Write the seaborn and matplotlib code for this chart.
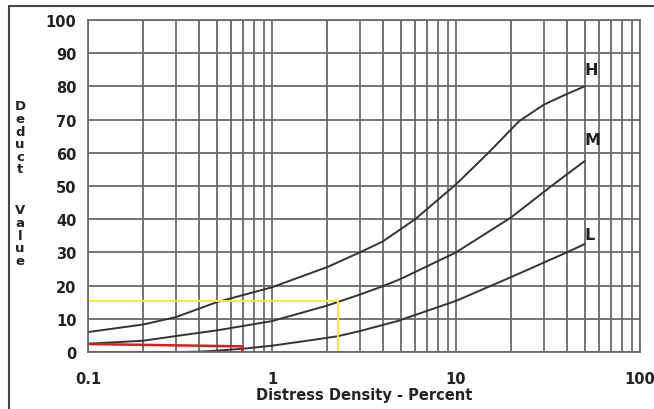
import numpy as np
import pandas as pd
import matplotlib
matplotlib.use('Agg')
import matplotlib.pyplot as plt
from matplotlib.lines import Line2D
import seaborn as sns

# Curve readings (distress density %, deduct value)
h_density = [0.1, 0.2, 0.3, 0.5, 1, 2, 3, 4, 6, 10, 15, 22, 30, 40, 50]
h_value = [6, 8.3, 10.5, 15, 19.5, 25.6, 30, 33.3, 40, 50.5, 60, 69.5, 74.5, 77.7, 80]

m_density = [0.1, 0.2, 0.3, 0.5, 1, 2, 3, 4, 5, 10, 20, 33, 50]
m_value = [2.5, 3.4, 4.8, 6.5, 9.3, 14, 17.3, 19.8, 22, 30, 40.6, 50, 57.5]

l_density = [0.1, 0.3, 0.4, 0.5, 0.7, 1, 1.8, 2.3, 3, 4.8, 10, 20, 40, 50]
l_value = [0, 0, 0.1, 0.4, 1.0, 1.9, 3.9, 4.8, 6.3, 9.3, 15.4, 22.6, 30, 32.5]

# Worked example lines
yellow_x = [0.1, 2.29, 2.29]
yellow_y = [15.3, 15.3, 0]
red_x = [0.1, 0.69, 0.69]
red_y = [2.4, 1.7, 0]

curve_labels = ['H', 'M', 'L']
label_pos = [(50, 85), (50, 64), (50, 35.5)]

x_ticks = [0.1, 1, 10, 100]
x_ticklabels = ['0.1', '1', '10', '100']
y_ticks = list(range(0, 101, 10))

df = pd.concat([
    pd.DataFrame({'density': h_density, 'value': h_value, 'severity': 'H'}),
    pd.DataFrame({'density': m_density, 'value': m_value, 'severity': 'M'}),
    pd.DataFrame({'density': l_density, 'value': l_value, 'severity': 'L'}),
])

sns.set_style('white')
plt.rcParams['font.family'] = ['DejaVu Sans']

fig = plt.figure(figsize=(6.54, 4.10), dpi=100)
ax = fig.add_axes([88 / 654, 1 - 353 / 410, (640 - 88) / 654, (353 - 21) / 410])

grid_color = '#6a6a6a'
ax.set_xscale('log')
ax.set_xlim(0.1, 100)
ax.set_ylim(0, 100)
ax.set_xticks(x_ticks)
ax.set_xticklabels(x_ticklabels)
ax.set_xticks([m * d for d in [0.1, 1, 10] for m in range(2, 10)], minor=True)
ax.set_yticks(y_ticks)
ax.grid(which='both', color=grid_color, lw=1.3)
ax.tick_params(which='both', direction='out', length=4, width=1.3, color=grid_color)
ax.tick_params(axis='x', which='minor', labelbottom=False)
ax.tick_params(axis='x', pad=10, labelsize=10.5, labelcolor='#222')
ax.tick_params(axis='y', pad=4.3, labelsize=10.5, labelcolor='#222')
for lab in ax.get_xticklabels() + ax.get_yticklabels():
    lab.set_fontweight('bold')
for sp in ax.spines.values():
    sp.set_color(grid_color)
    sp.set_linewidth(1.3)

sns.lineplot(data=df, x='density', y='value', hue='severity', sort=False,
             palette={'H': '#333333', 'M': '#333333', 'L': '#333333'},
             lw=1.4, legend=False, ax=ax)
ax.plot(yellow_x, yellow_y, color='#f2ef2a', lw=1.4)
ax.plot(red_x, red_y, color='#d42020', lw=1.8)

for lab, (x, y) in zip(curve_labels, label_pos):
    ax.text(x, y, lab, ha='left', va='center', fontsize=11.5,
            fontweight='bold', color='#222')

ax.set_xlabel('')
ax.set_ylabel('')
fig.text(364 / 654, 1 - 396 / 410, 'Distress Density - Percent', ha='center',
         va='center', fontsize=10.5, fontweight='bold', color='#222')

# stacked vertical y label
for i, ch in enumerate('Deduct'):
    fig.text(20 / 654, 1 - (107 + i * 12.6) / 410, ch, ha='center', va='center',
             fontsize=9.5, fontweight='bold', color='#222')
for i, ch in enumerate('Value'):
    fig.text(20 / 654, 1 - (211 + i * 12.6) / 410, ch, ha='center', va='center',
             fontsize=9.5, fontweight='bold', color='#222')

# outer frame (top and left)
fig.add_artist(Line2D([9 / 654, 1], [1 - 7 / 410, 1 - 7 / 410],
                      transform=fig.transFigure, color='#444', lw=1.5))
fig.add_artist(Line2D([9 / 654, 9 / 654], [0, 1 - 7 / 410],
                      transform=fig.transFigure, color='#444', lw=1.5))

fig.savefig('out.png', dpi=100)
